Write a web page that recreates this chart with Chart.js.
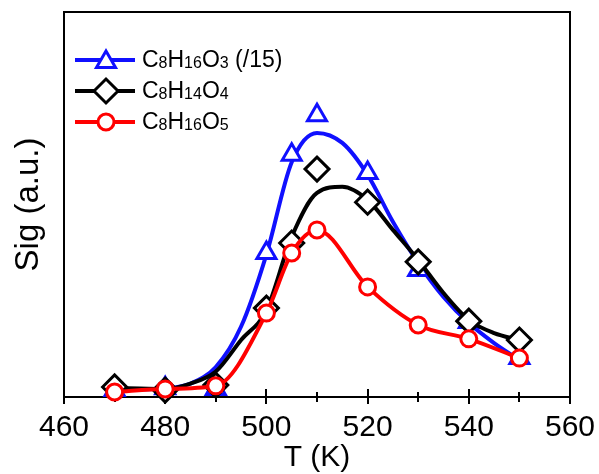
<!DOCTYPE html>
<html lang="en">
<head>
  <meta charset="UTF-8" />
  <title>Sig (a.u.) vs T (K)</title>
  <style>
    html, body { margin: 0; padding: 0; background: #fff; }
    .caixa { width: 599px; height: 474px; }
  </style>
</head>
<body>
  <div class="caixa">
    <canvas id="grafico"></canvas>
  </div>

<script src="https://cdn.jsdelivr.net/npm/chart.js"></script>
<script>
  // pontos medidos (marcadores)
  const temperaturas = [470, 480, 490, 500, 505, 510, 520, 530, 540, 550];
  const sinalC8H16O3 = [1.8, 2.3, 2.1, 37.4, 62.9, 73.2, 58.2, 33.0, 19.5, 10.1];
  const sinalC8H14O4 = [2.6, 1.8, 3.1, 23.1, 40.0, 59.2, 50.6, 35.1, 19.7, 14.8];
  const sinalC8H16O5 = [1.3, 2.1, 2.9, 21.8, 37.4, 43.4, 28.6, 18.7, 15.1, 10.1];

  // curvas ajustadas (azul e preta)
  const temperaturasCurva = [470, 475, 480, 485, 490, 495, 500, 505, 510, 515, 520, 525, 530, 535, 540, 545, 550];
  const curvaC8H16O3 = [2.0, 2.0, 2.2, 3.5, 7.8, 18.3, 37.0, 61.0, 68.6, 66.0, 57.7, 45.5, 34.8, 26.0, 19.2, 14.0, 9.6];
  const curvaC8H14O4 = [2.3, 2.2, 2.1, 3.5, 6.6, 14.8, 22.5, 41.6, 53.0, 54.6, 51.2, 43.4, 35.6, 27.0, 20.0, 16.6, 14.8];

  const ticksX = [460, 480, 500, 520, 540, 560];
  const ticksMenores = [470, 490, 510, 530, 550];

  const nomes = ['C8H16O3 (/15)', 'C8H14O4', 'C8H16O5'];
  const cores = ['#1010ff', '#000000', '#ff0000'];
  const estilos = ['triangle', 'rectRot', 'circle'];
  const raios = [11, 12, 8];

  const fonte = '"Liberation Sans", Arial, sans-serif';

  function pares(xs, ys) {
    return xs.map((x, i) => ({ x: x, y: ys[i] }));
  }

  function marcadores(ys, i) {
    return {
      label: nomes[i],
      data: pares(temperaturas, ys),
      showLine: false,
      pointStyle: estilos[i],
      pointRadius: raios[i],
      pointBorderWidth: 3,
      pointBorderColor: cores[i],
      pointBackgroundColor: '#fff',
      borderColor: cores[i],
      clip: false
    };
  }

  function curva(ys, i) {
    return {
      label: nomes[i] + ' ajuste',
      data: pares(temperaturasCurva, ys),
      borderColor: cores[i],
      borderWidth: 4,
      pointRadius: 0,
      cubicInterpolationMode: 'monotone',
      clip: false
    };
  }

  // vermelho: linha passando pelos pontos
  const vermelho = marcadores(sinalC8H16O5, 2);
  vermelho.showLine = true;
  vermelho.borderWidth = 4;
  vermelho.cubicInterpolationMode = 'monotone';

  // primeiro dataset fica por cima
  const datasets = [
    vermelho,
    marcadores(sinalC8H14O4, 1),
    curva(curvaC8H14O4, 1),
    marcadores(sinalC8H16O3, 0),
    curva(curvaC8H16O3, 0)
  ];

  function desenharMarcador(ctx, estilo, raio, x, y) {
    if (Chart.helpers && Chart.helpers.drawPoint) {
      Chart.helpers.drawPoint(ctx, { pointStyle: estilo, radius: raio, borderWidth: 3, rotation: 0 }, x, y);
    }
  }

  // escreve a fórmula com os números do elemento em subscrito
  function escreverFormula(ctx, texto, x, y) {
    let depoisDeLetra = false;
    for (const c of texto) {
      const ehDigito = /\d/.test(c);
      const sub = ehDigito && depoisDeLetra;
      ctx.font = (sub ? '16px ' : '23px ') + fonte;
      ctx.fillText(c, x, y + (sub ? 3 : 0));
      x += ctx.measureText(c).width;
      if (/[A-Za-z]/.test(c)) depoisDeLetra = true;
      else if (!ehDigito) depoisDeLetra = false;
    }
  }

  const moldura = {
    id: 'moldura',
    beforeDatasetsDraw(chart) {
      const { ctx, chartArea: a, scales: { x } } = chart;
      ctx.save();
      ctx.strokeStyle = '#000';
      ctx.lineWidth = 2;
      ctx.strokeRect(a.left, a.top, a.right - a.left, a.bottom - a.top);
      ctx.beginPath();
      ticksX.forEach(v => {
        const px = Math.round(x.getPixelForValue(v));
        ctx.moveTo(px, a.bottom - 8);
        ctx.lineTo(px, a.bottom + 7);
      });
      ticksMenores.forEach(v => {
        const px = Math.round(x.getPixelForValue(v));
        ctx.moveTo(px, a.bottom - 5);
        ctx.lineTo(px, a.bottom + 5);
      });
      ctx.stroke();
      ctx.restore();
    },
    afterDraw(chart) {
      const ctx = chart.ctx;
      ctx.save();
      ctx.textBaseline = 'middle';
      for (let i = 0; i < 3; i++) {
        const y = 60 + i * 31;
        ctx.strokeStyle = cores[i];
        ctx.lineWidth = 4;
        ctx.beginPath();
        ctx.moveTo(75, y);
        ctx.lineTo(135, y);
        ctx.stroke();
        ctx.fillStyle = '#fff';
        ctx.lineWidth = 3;
        desenharMarcador(ctx, estilos[i], raios[i], 106, y + (i === 0 ? 2 : 0));
        ctx.fillStyle = '#000';
        escreverFormula(ctx, nomes[i], 142, y + 1);
      }
      ctx.restore();
    }
  };

  new Chart(document.getElementById('grafico'), {
    type: 'line',
    data: { datasets: datasets },
    options: {
      responsive: true,
      maintainAspectRatio: false,
      animation: false,
      layout: { autoPadding: false, padding: { left: 10, right: 29, top: 12, bottom: 0 } },
      plugins: {
        legend: { display: false },
        tooltip: { enabled: false }
      },
      scales: {
        x: {
          type: 'linear',
          min: 460,
          max: 560,
          afterBuildTicks: scale => { scale.ticks = ticksX.map(v => ({ value: v })); },
          afterFit: scale => {
            scale.height = 77;
            scale.paddingLeft = 0;
            scale.paddingRight = 0;
          },
          grid: { display: false, drawTicks: false },
          border: { display: false },
          ticks: { color: '#000', font: { family: fonte, size: 30 }, padding: 13, maxRotation: 0 },
          title: {
            display: true,
            text: 'T (K)',
            color: '#000',
            font: { family: fonte, size: 30, lineHeight: 1 },
            padding: { top: 3, bottom: 1 }
          }
        },
        y: {
          min: 0,
          max: 100,
          afterFit: scale => { scale.width = 54; },
          grid: { display: false, drawTicks: false },
          border: { display: false },
          ticks: { display: false },
          title: {
            display: true,
            text: 'Sig (a.u.)',
            color: '#000',
            font: { family: fonte, size: 33, lineHeight: 1 },
            padding: { top: 2, bottom: 20 }
          }
        }
      }
    },
    plugins: [moldura]
  });
</script>
</body>
</html>
